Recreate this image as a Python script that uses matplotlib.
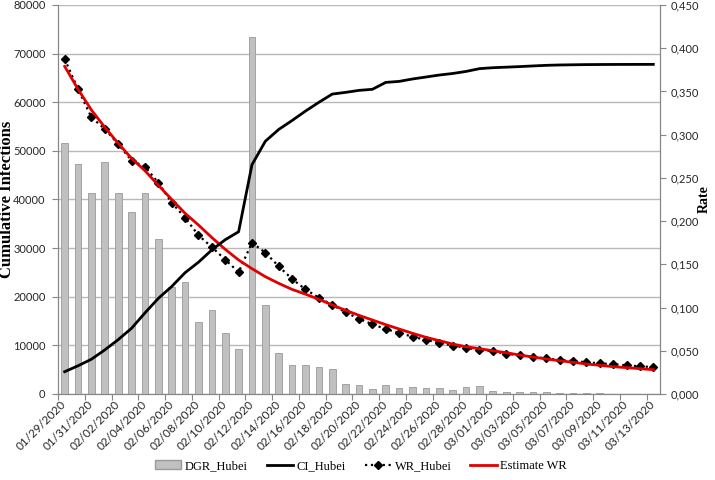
import numpy as np
import matplotlib
matplotlib.use("Agg")
import matplotlib.pyplot as plt
from matplotlib.lines import Line2D
from matplotlib.patches import Patch
from matplotlib.ticker import FuncFormatter

dates = ['01/29/2020', '01/30/2020', '01/31/2020', '02/01/2020', '02/02/2020',
         '02/03/2020', '02/04/2020', '02/05/2020', '02/06/2020', '02/07/2020',
         '02/08/2020', '02/09/2020', '02/10/2020', '02/11/2020', '02/12/2020',
         '02/13/2020', '02/14/2020', '02/15/2020', '02/16/2020', '02/17/2020',
         '02/18/2020', '02/19/2020', '02/20/2020', '02/21/2020', '02/22/2020',
         '02/23/2020', '02/24/2020', '02/25/2020', '02/26/2020', '02/27/2020',
         '02/28/2020', '02/29/2020', '03/01/2020', '03/02/2020', '03/03/2020',
         '03/04/2020', '03/05/2020', '03/06/2020', '03/07/2020', '03/08/2020',
         '03/09/2020', '03/10/2020', '03/11/2020', '03/12/2020', '03/13/2020']

# daily growth rate (right axis)
dgr = [0.290, 0.266, 0.232, 0.268, 0.232, 0.210, 0.233, 0.179, 0.124, 0.129,
       0.083, 0.097, 0.071, 0.052, 0.413, 0.103, 0.047, 0.034, 0.034, 0.031,
       0.029, 0.012, 0.010, 0.006, 0.010, 0.007, 0.008, 0.007, 0.007, 0.005,
       0.008, 0.009, 0.003, 0.002, 0.002, 0.002, 0.002, 0.001, 0.001, 0.001,
       0.001, 0.0005, 0.0005, 0.0005, 0.0005]

# cumulative infections (left axis)
ci = [4586, 5806, 7153, 9074, 11177, 13522, 16678, 19665, 22112, 24953,
      27100, 29631, 31728, 33366, 47150, 51986, 54406, 56249, 58182, 59989,
      61682, 62031, 62442, 62662, 64084, 64287, 64786, 65187, 65596, 65914,
      66337, 66907, 67103, 67217, 67332, 67466, 67592, 67666, 67707, 67743,
      67760, 67773, 67781, 67786, 67790]

wr = [0.3875, 0.3525, 0.320, 0.3066, 0.289, 0.270, 0.263, 0.2444, 0.2213, 0.204,
      0.1836, 0.170, 0.1554, 0.141, 0.175, 0.1635, 0.1477, 0.133, 0.121, 0.1114,
      0.103, 0.0945, 0.0871, 0.0806, 0.0752, 0.0706, 0.0663, 0.0625, 0.0594, 0.0559,
      0.0536, 0.0509, 0.0494, 0.0466, 0.0448, 0.0428, 0.0413, 0.0393, 0.0382, 0.0367,
      0.0355, 0.0344, 0.0332, 0.0320, 0.0312]

est_wr = [0.379, 0.3525, 0.3285, 0.3085, 0.290, 0.2726, 0.2583, 0.2415, 0.225, 0.209,
          0.1955, 0.181, 0.1674, 0.155, 0.145, 0.1357, 0.128, 0.121, 0.1155, 0.1095,
          0.103, 0.0968, 0.091, 0.0856, 0.0802, 0.0752, 0.0702, 0.0656, 0.0617, 0.0578,
          0.0547, 0.0525, 0.0500, 0.0478, 0.0451, 0.0428, 0.0405, 0.0385, 0.0367, 0.0347,
          0.0332, 0.0316, 0.0305, 0.0293, 0.0281]

tick_font = {'family': 'Lato', 'size': 8.5}
tick_color = '#262626'
spine_color = '#868686'

fig = plt.figure(figsize=(7.15, 4.8), dpi=100)
rect = [58 / 715, 1 - 394 / 480, 602 / 715, 389 / 480]
x = np.arange(len(dates))

# base axes: grid + left ticks
ax = fig.add_axes(rect)
ax.set_xlim(-0.5, len(dates) - 0.5)
ax.set_ylim(0, 80000)
ax.set_yticks(range(0, 80001, 10000))
ax.grid(axis='y', color='#b8b8b8', lw=1)
ax.set_axisbelow(True)

# rates on the right
ax_r = ax.twinx()
ax_r.bar(x, dgr, width=0.5, color='#c0c0c0', edgecolor='#999999', lw=0.6)
ax_r.plot(x, wr, color='black', ls=':', lw=1.6, marker='D', ms=4.5)
ax_r.plot(x, est_wr, color='#e00000', lw=2)
ax_r.set_ylim(0, 0.45)
ax_r.set_yticks(np.arange(0, 0.451, 0.05))
ax_r.yaxis.set_major_formatter(FuncFormatter(lambda v, p: f'{v:.3f}'.replace('.', ',')))

# cumulative line drawn on top
ax_ci = fig.add_axes(rect, sharex=ax, sharey=ax, frameon=False)
ax_ci.plot(x, ci, color='black', lw=2)
ax_ci.set_axis_off()

# x ticks: marks between categories, labels every 2 days
ax.set_xticks(np.arange(-0.5, len(dates), 2))
ax.set_xticklabels([])
ax.set_xticks(x[::2], minor=True)
ax.set_xticklabels(dates[::2], minor=True, rotation=45, ha='right', va='center',
                   rotation_mode='anchor', fontdict=tick_font, color=tick_color)
ax.tick_params(axis='x', which='minor', length=0, pad=6)
ax.tick_params(axis='x', which='major', length=4, color=spine_color)
ax.tick_params(axis='y', length=4, pad=5, color=spine_color, labelcolor=tick_color)
ax_r.tick_params(axis='y', length=4, color=spine_color, labelcolor=tick_color)
for lab in ax.get_yticklabels() + ax_r.get_yticklabels():
    lab.set_fontfamily('Lato')
    lab.set_fontsize(8)

for a in (ax, ax_r):
    a.spines['top'].set_visible(False)
    for s in ('left', 'right', 'bottom'):
        a.spines[s].set_color(spine_color)

ax.set_ylabel('Cumulative Infections', family='Liberation Serif', weight='bold', fontsize=12)
ax.yaxis.set_label_coords((15 - 58) / 602, 0.5)
ax_r.set_ylabel('Rate', family='Liberation Serif', weight='bold', fontsize=10)
ax_r.yaxis.set_label_coords((698 - 58) / 602, 0.5)

handles = [Patch(facecolor='#c0c0c0', edgecolor='#999999'),
           Line2D([], [], color='black', lw=2),
           Line2D([], [], color='black', ls=':', lw=1.6, marker='D', ms=4.5),
           Line2D([], [], color='#e00000', lw=2)]
labels = ['DGR_Hubei', 'CI_Hubei', 'WR_Hubei', 'Estimate WR']
fig.legend(handles, labels, loc='center', bbox_to_anchor=(0.505, 1 - 466 / 480), ncol=4,
           frameon=False, prop={'family': 'Liberation Serif', 'size': 9},
           handlelength=2.1, handletextpad=0.3, columnspacing=1.5)

fig.savefig('out.png', dpi=100)
